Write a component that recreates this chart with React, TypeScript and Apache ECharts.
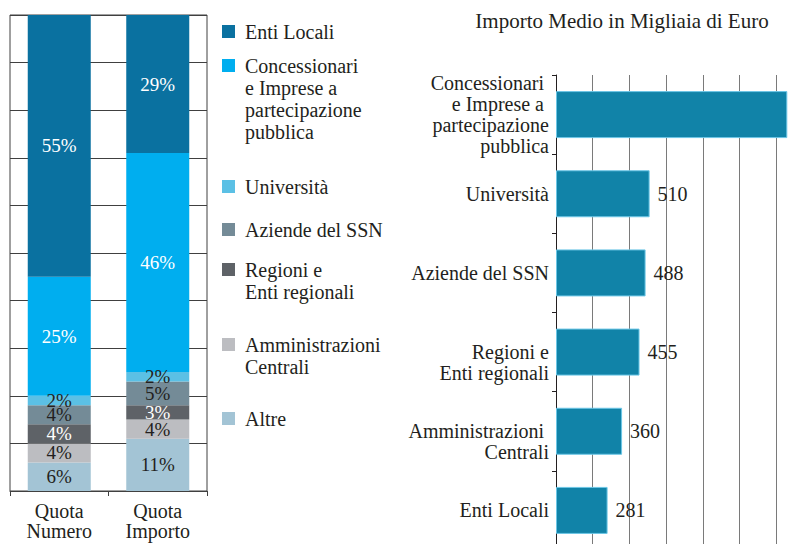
import React, { useEffect, useRef } from 'react';
import * as echarts from 'echarts';

// ---- Data ----
const shareCategories = ['Quota\nNumero', 'Quota\nImporto'];

// stacked segments, bottom to top
const segmentNames = [
  'Altre',
  'Amministrazioni Centrali',
  'Regioni e Enti regionali',
  'Aziende del SSN',
  'Università',
  'Concessionari e Imprese a partecipazione pubblica',
  'Enti Locali',
];
const altre = [6, 11];
const amministrazioniCentrali = [4, 4];
const regioniEnti = [4, 3];
const aziendeSSN = [4, 5];
const universita = [2, 2];
const concessionari = [25, 46];
const entiLocali = [55, 29];

// legend display labels, top to bottom
const legendLabels = [
  'Enti Locali',
  'Concessionari\ne Imprese a\npartecipazione\npubblica',
  'Università',
  'Aziende del SSN',
  'Regioni e\nEnti regionali',
  'Amministrazioni\nCentrali',
  'Altre',
];

const avgCategories = [
  'Concessionari \ne Imprese a \npartecipazione\npubblica',
  'Università',
  'Aziende del SSN',
  'Regioni e\nEnti regionali',
  'Amministrazioni \nCentrali',
  'Enti Locali',
];
const avgValues = [1260, 510, 488, 455, 360, 281];

const chartTitle = 'Importo Medio in Migliaia di Euro';

// ---- Styles ----
const FONT = "'Liberation Serif', 'DejaVu Serif', serif";
const TEXT = '#231f20';
const segmentColors = ['#a3c4d5', '#bcbdc1', '#5e6267', '#748b97', '#5bc0e5', '#00aeef', '#0a71a0'];
const segmentLabelColors = [TEXT, TEXT, '#ffffff', TEXT, TEXT, '#ffffff', '#ffffff'];
const legendColors = [...segmentColors].reverse();
const legendTops = [25, 59, 180, 223, 263, 338, 412];

export default function App() {
  const ref = useRef<HTMLDivElement>(null);

  useEffect(() => {
    if (!ref.current) return;
    document.body.style.margin = '0';
    const chart = echarts.init(ref.current, undefined, { renderer: 'svg' });

    const segmentData = [altre, amministrazioniCentrali, regioniEnti, aziendeSSN, universita, concessionari, entiLocali];

    const shareSeries = segmentNames.map((name, i) => ({
      name,
      type: 'bar',
      stack: 'share',
      xAxisIndex: 0,
      yAxisIndex: 0,
      barWidth: 63,
      data: segmentData[i],
      itemStyle: { color: segmentColors[i] },
      label: {
        show: true,
        position: 'inside',
        formatter: '{c}%',
        color: segmentLabelColors[i],
        fontFamily: FONT,
        fontSize: 19,
      },
    }));

    const graphics: any[] = [];
    legendLabels.forEach((lbl, i) => {
      graphics.push({
        type: 'rect',
        left: 222,
        top: legendTops[i],
        shape: { width: 13, height: 13 },
        style: { fill: legendColors[i] },
      });
      graphics.push({
        type: 'text',
        x: 245,
        y: legendTops[i] - 4,
        style: {
          text: lbl,
          font: `20px ${FONT}`,
          lineHeight: 22,
          fill: TEXT,
          verticalAlign: 'top',
        },
      });
    });

    chart.setOption({
      animation: false,
      backgroundColor: '#ffffff',
      title: {
        text: chartTitle,
        left: 622,
        top: 10,
        textAlign: 'center',
        padding: 0,
        textStyle: { fontFamily: FONT, fontSize: 21, fontWeight: 'normal', color: TEXT },
      },
      grid: [
        {
          left: 10,
          width: 197,
          top: 15,
          height: 476,
          outerBoundsMode: 'none',
          show: true,
          borderColor: '#404040',
          borderWidth: 1,
        },
        {
          left: 556,
          width: 257,
          top: 75,
          height: 475,
          outerBoundsMode: 'none',
        },
      ],
      xAxis: [
        {
          type: 'category',
          gridIndex: 0,
          data: shareCategories,
          axisLine: { lineStyle: { color: '#404040' } },
          axisTick: { show: true, length: 5, lineStyle: { color: '#404040' } },
          axisLabel: { fontFamily: FONT, fontSize: 20, lineHeight: 20, margin: 10, color: TEXT },
        },
        {
          type: 'value',
          gridIndex: 1,
          min: 0,
          max: 1400,
          interval: 200,
          axisLine: { show: false },
          axisTick: { show: false },
          axisLabel: { show: false },
          splitLine: { show: true, lineStyle: { color: '#7a7a7a' } },
        },
      ],
      yAxis: [
        {
          type: 'value',
          gridIndex: 0,
          min: 0,
          max: 100,
          interval: 10,
          axisLine: { show: false },
          axisTick: { show: false },
          axisLabel: { show: false },
          splitLine: { show: true, lineStyle: { color: '#404040' } },
        },
        {
          type: 'category',
          gridIndex: 1,
          data: avgCategories,
          inverse: true,
          axisLine: { show: true, lineStyle: { color: TEXT } },
          axisTick: { show: true, length: 4, lineStyle: { color: TEXT } },
          axisLabel: {
            fontFamily: FONT,
            fontSize: 20,
            lineHeight: 21,
            margin: 7,
            color: TEXT,
            // the two-line labels sit a little below their bars in the original
            formatter: (v: string) => (v.split('\n').length === 2 ? '\n' + v : v),
          },
          splitLine: { show: false },
        },
      ],
      series: [
        ...shareSeries,
        {
          name: chartTitle,
          type: 'bar',
          xAxisIndex: 1,
          yAxisIndex: 1,
          barWidth: 47,
          data: avgValues.map((v, i) => (i === 0 ? { value: v, label: { show: false } } : v)),
          itemStyle: { color: '#1183a8', borderColor: '#6cc6e6', borderWidth: 1 },
          label: {
            show: true,
            position: 'right',
            distance: 8,
            fontFamily: FONT,
            fontSize: 20,
            color: TEXT,
          },
        },
      ],
      graphic: graphics,
    });

    return () => chart.dispose();
  }, []);

  return <div ref={ref} style={{ position: 'absolute', left: 0, top: 0, width: 806, height: 544 }} />;
}
